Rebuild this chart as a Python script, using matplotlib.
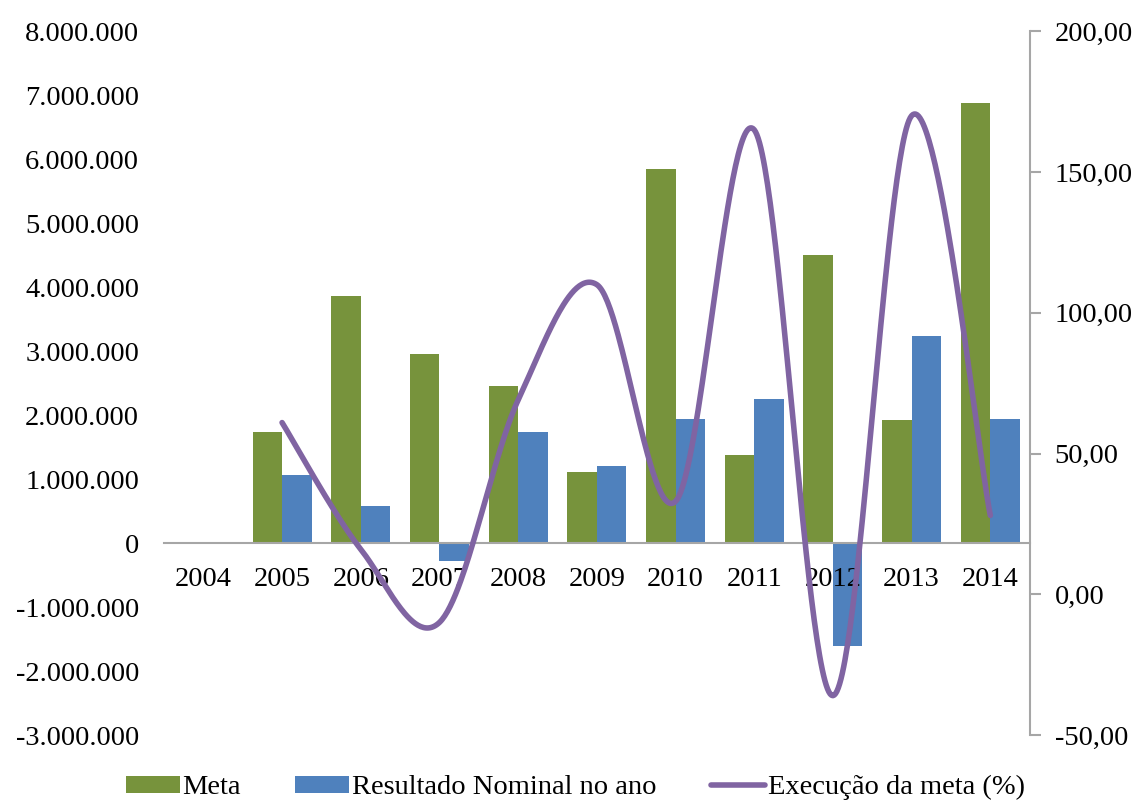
import numpy as np
import matplotlib
matplotlib.use("Agg")
from matplotlib import pyplot as plt
from matplotlib.ticker import FuncFormatter

anos = ["2004", "2005", "2006", "2007", "2008", "2009", "2010", "2011", "2012", "2013", "2014"]
meta = [0, 1730000, 3870000, 2950000, 2450000, 1110000, 5840000, 1375000, 4500000, 1920000, 6875000]
resultado = [0, 1060000, 580000, -280000, 1730000, 1200000, 1940000, 2250000, -1610000, 3230000, 1940000]
# execução da meta (%), 2005 a 2014
execucao = [61, 16, -10, 69, 110, 33, 165, -36, 170, 28]

plt.rcParams["font.family"] = ["Liberation Serif", "DejaVu Serif"]
plt.rcParams["font.size"] = 20.5

verde = "#77933C"
azul = "#4F81BD"
roxo = "#8064A2"
cinza = "#a6a6a6"


def suaviza(xs, ys, n=60):
    # curva suavizada (Bezier no estilo Catmull-Rom) passando pelos pontos
    xs = np.asarray(xs, float)
    ys = np.asarray(ys, float)
    px = np.concatenate([[xs[0]], xs, [xs[-1]]])
    py = np.concatenate([[ys[0]], ys, [ys[-1]]])
    out_x, out_y = [], []
    t = np.linspace(0, 1, n)
    for i in range(1, len(px) - 2):
        p0 = np.array([px[i], py[i]])
        p3 = np.array([px[i + 1], py[i + 1]])
        c1 = p0 + (p3 - np.array([px[i - 1], py[i - 1]])) / 6
        c2 = p3 - (np.array([px[i + 2], py[i + 2]]) - p0) / 6
        b = ((1 - t) ** 3)[:, None] * p0 + (3 * (1 - t) ** 2 * t)[:, None] * c1 \
            + (3 * (1 - t) * t ** 2)[:, None] * c2 + (t ** 3)[:, None] * p3
        out_x.extend(b[:, 0])
        out_y.extend(b[:, 1])
    return np.array(out_x), np.array(out_y)


fig = plt.figure(figsize=(11.39, 8.02), dpi=100)
ax = fig.add_axes([0.144, 0.0835, 0.76, 0.8775])

x = np.arange(len(anos))
w = 0.375
b1 = ax.bar(x - w / 2, meta, w, color=verde, label="Meta")
b2 = ax.bar(x + w / 2, resultado, w, color=azul, label="Resultado Nominal no ano")

ax.set_xlim(-0.5, len(anos) - 0.5)
ax.set_ylim(-3000000, 8000000)
ax.set_yticks(np.arange(-3000000, 8000001, 1000000))
ax.yaxis.set_major_formatter(FuncFormatter(lambda v, p: f"{int(v):,}".replace(",", ".")))
ax.tick_params(axis="y", length=0, pad=18)

ax.spines["top"].set_visible(False)
ax.spines["left"].set_visible(False)
ax.spines["right"].set_visible(False)
ax.spines["bottom"].set_position(("data", 0))
ax.spines["bottom"].set_color(cinza)
ax.spines["bottom"].set_linewidth(1.5)
ax.set_xticks(x)
ax.set_xticklabels(anos)
ax.tick_params(axis="x", length=0, pad=17)

ax2 = ax.twinx()
ax2.set_ylim(-50, 200)
ax2.set_yticks(np.arange(-50, 201, 50))
ax2.yaxis.set_major_formatter(FuncFormatter(lambda v, p: f"{v:.2f}".replace(".", ",")))
for s in ["top", "left", "bottom"]:
    ax2.spines[s].set_visible(False)
ax2.spines["right"].set_color(cinza)
ax2.spines["right"].set_linewidth(1.5)
ax2.tick_params(axis="y", length=8, width=1.5, color=cinza, pad=10, direction="out")

sx, sy = suaviza(x[1:], execucao)
ln, = ax2.plot(sx, sy, color=roxo, linewidth=4, solid_capstyle="round",
               label="Execução da meta (%)")

fig.legend([b1, b2, ln], ["Meta", "Resultado Nominal no ano", "Execução da meta (%)"],
           loc="lower center", bbox_to_anchor=(0.505, -0.03), ncol=3, frameon=False,
           handlelength=1.9, handleheight=0.55, handletextpad=0.1, columnspacing=1.9)

plt.savefig("out.png", dpi=100)
